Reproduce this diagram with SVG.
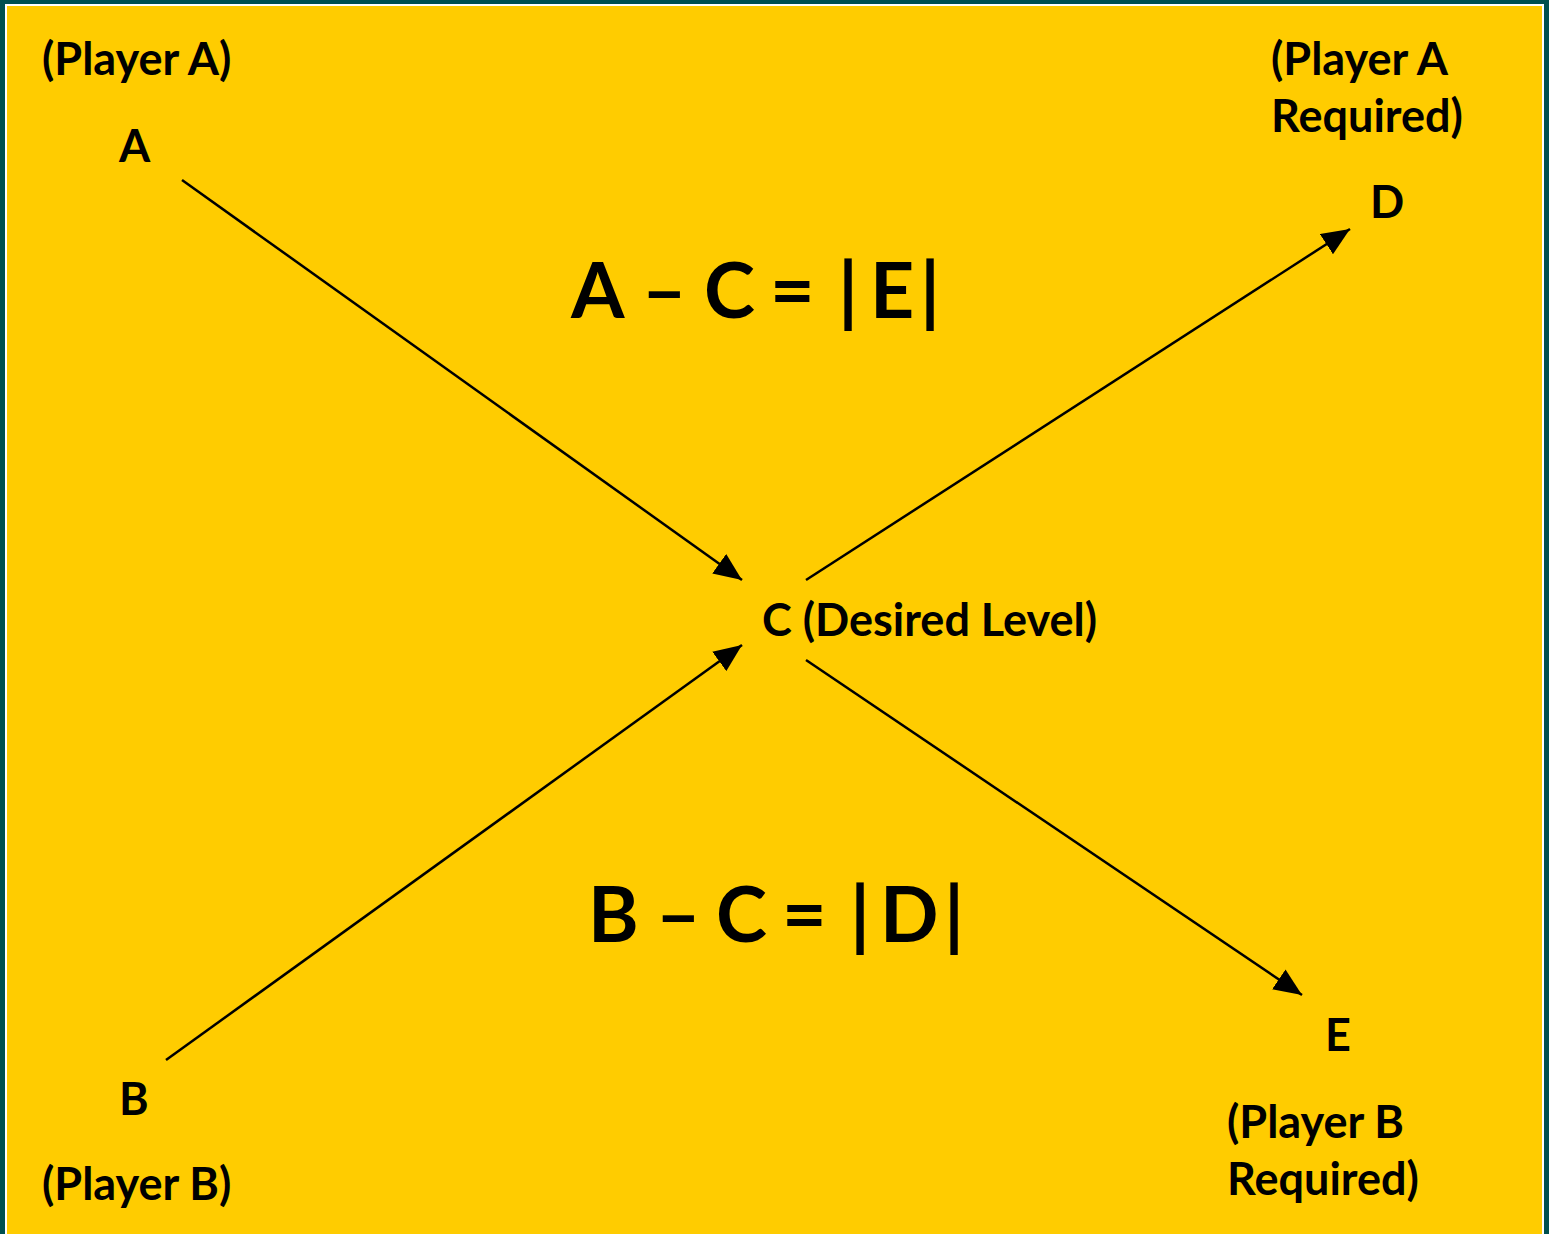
<svg xmlns="http://www.w3.org/2000/svg" width="1549" height="1234" viewBox="0 0 1549 1234">
<style>
.t{font-family:Lato,"Open Sans",sans-serif;font-weight:bold;fill:#000}
.s{font-size:45px}
.big{font-size:77px}
.c{stroke:#000;stroke-width:2.5;fill:none;marker-end:url(#ah)}
</style>
<defs>
<marker id="ah" markerUnits="userSpaceOnUse" markerWidth="30" markerHeight="24" refX="28" refY="12" orient="auto">
<path d="M0,0 L28,12 L0,24 Z" fill="#000"/>
</marker>
</defs>
<rect x="0" y="0" width="1549" height="1234" fill="#00504F"/>
<rect x="5" y="4" width="1539" height="1240" fill="#FFFFFF"/>
<rect x="7" y="6" width="1535" height="1240" fill="#FFCC00"/>
<g id="connectors">
<line class="c" x1="182" y1="180" x2="742" y2="580"/>
<line class="c" x1="166" y1="1060" x2="742" y2="645"/>
<line class="c" x1="806" y1="580" x2="1350" y2="229"/>
<line class="c" x1="806" y1="660" x2="1302" y2="995"/>
</g>
<g id="nodeA"><text class="t s" x="119" y="162">A</text></g>
<g id="labelPlayerA"><text class="t s" x="42" y="75">(Player A)</text></g>
<g id="nodeD"><text class="t s" x="1370" y="218">D</text></g>
<g id="labelPlayerAReq"><text class="t s" x="1271" y="75">(Player A</text><text class="t s" x="1271" y="132">Required)</text></g>
<g id="nodeC"><text class="t s" x="762" y="636">C (Desired Level)</text></g>
<g id="nodeE"><text class="t s" x="1325" y="1051">E</text></g>
<g id="labelPlayerBReq"><text class="t s" x="1227" y="1138">(Player B</text><text class="t s" x="1227" y="1195">Required)</text></g>
<g id="nodeB"><text class="t s" x="119" y="1115">B</text></g>
<g id="labelPlayerB"><text class="t s" x="42" y="1200">(Player B)</text></g>
<g id="eq1"><text class="t big" x="571 620 642 684 704 747 770 806 838 870 920" y="318">A – C = |E|</text></g>
<g id="eq2"><text class="t big" x="588 632 656 697 716 760 782 818 850 880 944" y="942">B – C = |D|</text></g>
</svg>
